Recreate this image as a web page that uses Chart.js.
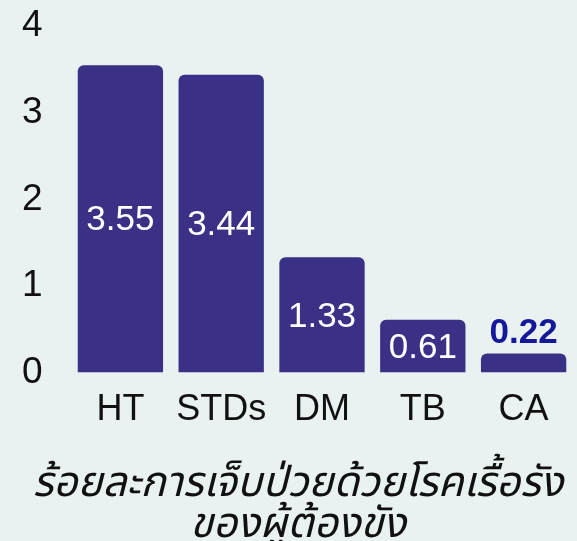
<!DOCTYPE html>
<html><head><meta charset="utf-8">
<script src="https://cdn.jsdelivr.net/npm/chart.js@4.4.0/dist/chart.umd.min.js"></script>
<style>html,body{margin:0;padding:0;background:#e9f2f1;}#wrap{width:577px;height:541px;}</style>
</head><body><div id="wrap"><canvas id="c" width="577" height="541"></canvas></div>
<script>
const categories = ["HT", "STDs", "DM", "TB", "CA"];
const values = [3.55, 3.44, 1.33, 0.61, 0.22];
const valueLabels = ["3.55", "3.44", "1.33", "0.61", "0.22"];
const yTicks = [0, 1, 2, 3, 4];
const titleLines = ["ร้อยละการเจ็บป่วยด้วยโรคเรื้อรัง", "ของผู้ต้องขัง"];

const FONT = "'Liberation Sans', Arial, sans-serif";
const THAI = "'Noto Sans Thai', 'Kanit', 'Prompt', 'Noto Sans', 'Liberation Sans', sans-serif";

const labelPlugin = {
  id: 'barLabels',
  afterDatasetsDraw(chart) {
    const ctx = chart.ctx;
    const meta = chart.getDatasetMeta(0);
    ctx.save();
    ctx.textAlign = 'center';
    meta.data.forEach((bar, i) => {
      const h = bar.base - bar.y;
      if (h > 40) {
        ctx.fillStyle = '#ffffff';
        ctx.font = '35px ' + FONT;
        ctx.textBaseline = 'middle';
        ctx.fillText(valueLabels[i], bar.x, (bar.y + bar.base) / 2 + 2);
      } else {
        ctx.fillStyle = '#14189a';
        ctx.font = 'bold 35px ' + FONT;
        ctx.textBaseline = 'bottom';
        ctx.fillText(valueLabels[i], bar.x, bar.y - 3);
      }
    });
    ctx.restore();
  }
};

new Chart(document.getElementById('c'), {
  type: 'bar',
  data: {
    labels: categories,
    datasets: [{
      data: values,
      backgroundColor: '#3a3187',
      borderRadius: {topLeft: 6, topRight: 6},
      borderSkipped: 'bottom',
      barPercentage: 0.92,
      categoryPercentage: 0.92
    }]
  },
  options: {
    responsive: false,
    animation: false,
    layout: {padding: {left: 22, right: 3, top: -2, bottom: -8}},
    plugins: {
      legend: {display: false},
      tooltip: {enabled: false},
      title: {
        display: true,
        position: 'bottom',
        text: titleLines,
        color: '#111111',
        font: {family: THAI, size: 42, style: 'italic', weight: 'normal', lineHeight: 0.98},
        padding: {top: 19, bottom: 0}
      }
    },
    scales: {
      x: {
        grid: {display: false, drawTicks: false},
        border: {display: false},
        ticks: {color: '#111111', font: {family: FONT, size: 36}, padding: 16}
      },
      y: {
        min: 0, max: 4,
        afterBuildTicks(scale) { scale.ticks = yTicks.map(v => ({value: v})); },
        afterFit(scale) { scale.width = 48; },
        grid: {display: false, drawTicks: false},
        border: {display: false},
        ticks: {color: '#111111', font: {family: FONT, size: 37}, padding: 4, crossAlign: 'far', stepSize: 1}
      }
    }
  },
  plugins: [labelPlugin]
});
</script></body></html>
